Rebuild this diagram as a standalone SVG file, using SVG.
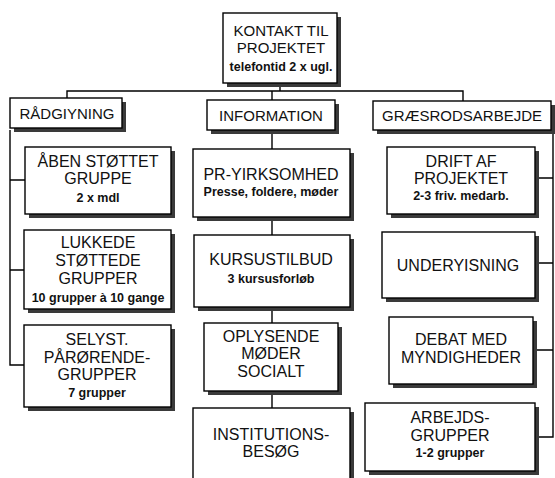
<svg xmlns="http://www.w3.org/2000/svg" width="555" height="478" viewBox="0 0 555 478">
<style>
  .sh{fill:#3a3a3a}
  .bx{fill:#fff;stroke:#000;stroke-width:1.4}
  .cn{fill:none;stroke:#000;stroke-width:1.4}
  text{font-family:"Liberation Sans",Arial,sans-serif;fill:#111;text-anchor:middle}
  .h{font-size:15px}
  .b{font-size:16px}
  .s{font-size:12.5px;font-weight:bold}
</style>
<rect width="555" height="478" fill="#fff"/>
<g id="connectors">
  <path class="cn" d="M280,85 V91"/>
  <path class="cn" d="M67,98 V91 H463 V101"/>
  <path class="cn" d="M272,91 V100"/>
  <path class="cn" d="M10,130 V365 H24 M10,180 H25 M10,270 H24"/>
  <path class="cn" d="M272,134 V149 M272,221 V235 M272,311 V323 M272,395 V408"/>
  <path class="cn" d="M553,134 V437 H539 M539,178 H553 M539,263 H553 M537,350 H553"/>
</g>
<g id="kontakt">
  <rect class="sh" x="227" y="17" width="114" height="70"/>
  <rect class="bx" x="223" y="13" width="114" height="70"/>
  <text class="h" x="281" y="36">KONTAKT TIL</text>
  <text class="h" x="281" y="53">PROJEKTET</text>
  <text class="s" x="281" y="71">telefontid 2 x ugl.</text>
</g>
<g id="raadgivning">
  <rect class="sh" x="14" y="102" width="112" height="30"/>
  <rect class="bx" x="10" y="98" width="112" height="30"/>
  <text class="h" x="67" y="119">RÅDGIYNING</text>
</g>
<g id="information">
  <rect class="sh" x="211" y="104" width="128" height="30"/>
  <rect class="bx" x="207" y="100" width="128" height="30"/>
  <text class="h" x="271" y="121">INFORMATION</text>
</g>
<g id="graesrod">
  <rect class="sh" x="377" y="105" width="178" height="29"/>
  <rect class="bx" x="373" y="101" width="178" height="29"/>
  <text class="h" x="462" y="121">GRÆSRODSARBEJDE</text>
</g>
<g id="aaben">
  <rect class="sh" x="29" y="151" width="146" height="67"/>
  <rect class="bx" x="25" y="147" width="146" height="67"/>
  <text class="b" x="98" y="167">ÅBEN STØTTET</text>
  <text class="b" x="98" y="184">GRUPPE</text>
  <text class="s" x="98" y="202">2 x mdl</text>
</g>
<g id="lukkede">
  <rect class="sh" x="28" y="234" width="147" height="79"/>
  <rect class="bx" x="24" y="230" width="147" height="79"/>
  <text class="b" x="98" y="248">LUKKEDE</text>
  <text class="b" x="98" y="266">STØTTEDE</text>
  <text class="b" x="98" y="284">GRUPPER</text>
  <text class="s" x="98" y="302">10 grupper à 10 gange</text>
</g>
<g id="selvst">
  <rect class="sh" x="28" y="329" width="147" height="82"/>
  <rect class="bx" x="24" y="325" width="147" height="82"/>
  <text class="b" x="97" y="345">SELYST.</text>
  <text class="b" x="97" y="363">PÅRØRENDE-</text>
  <text class="b" x="97" y="380">GRUPPER</text>
  <text class="s" x="97" y="397">7 grupper</text>
</g>
<g id="pr">
  <rect class="sh" x="197" y="153" width="157" height="68"/>
  <rect class="bx" x="193" y="149" width="157" height="68"/>
  <text class="b" x="271" y="180">PR-YIRKSOMHED</text>
  <text class="s" x="271" y="196">Presse, foldere, møder</text>
</g>
<g id="kursus">
  <rect class="sh" x="198" y="239" width="156" height="72"/>
  <rect class="bx" x="194" y="235" width="156" height="72"/>
  <text class="b" x="271" y="265">KURSUSTILBUD</text>
  <text class="s" x="271" y="283">3 kursusforløb</text>
</g>
<g id="oplysende">
  <rect class="sh" x="208" y="327" width="134" height="68"/>
  <rect class="bx" x="204" y="323" width="134" height="68"/>
  <text class="b" x="271" y="342">OPLYSENDE</text>
  <text class="b" x="271" y="359">MØDER</text>
  <text class="b" x="271" y="377">SOCIALT</text>
</g>
<g id="institution">
  <rect class="sh" x="197" y="412" width="157" height="80"/>
  <rect class="bx" x="193" y="408" width="157" height="80"/>
  <text class="b" x="271" y="440">INSTITUTIONS-</text>
  <text class="b" x="271" y="457">BESØG</text>
</g>
<g id="drift">
  <rect class="sh" x="391" y="151" width="148" height="67"/>
  <rect class="bx" x="387" y="147" width="148" height="67"/>
  <text class="b" x="461" y="167">DRIFT AF</text>
  <text class="b" x="461" y="184">PROJEKTET</text>
  <text class="s" x="461" y="200">2-3 friv. medarb.</text>
</g>
<g id="undervisning">
  <rect class="sh" x="386" y="236" width="153" height="66"/>
  <rect class="bx" x="382" y="232" width="153" height="66"/>
  <text class="b" x="458" y="271">UNDERYISNING</text>
</g>
<g id="debat">
  <rect class="sh" x="393" y="321" width="144" height="67"/>
  <rect class="bx" x="389" y="317" width="144" height="67"/>
  <text class="b" x="461" y="345">DEBAT MED</text>
  <text class="b" x="461" y="363">MYNDIGHEDER</text>
</g>
<g id="arbejds">
  <rect class="sh" x="369" y="407" width="170" height="68"/>
  <rect class="bx" x="365" y="403" width="170" height="68"/>
  <text class="b" x="450" y="423">ARBEJDS-</text>
  <text class="b" x="450" y="441">GRUPPER</text>
  <text class="s" x="450" y="457">1-2 grupper</text>
</g>
</svg>
